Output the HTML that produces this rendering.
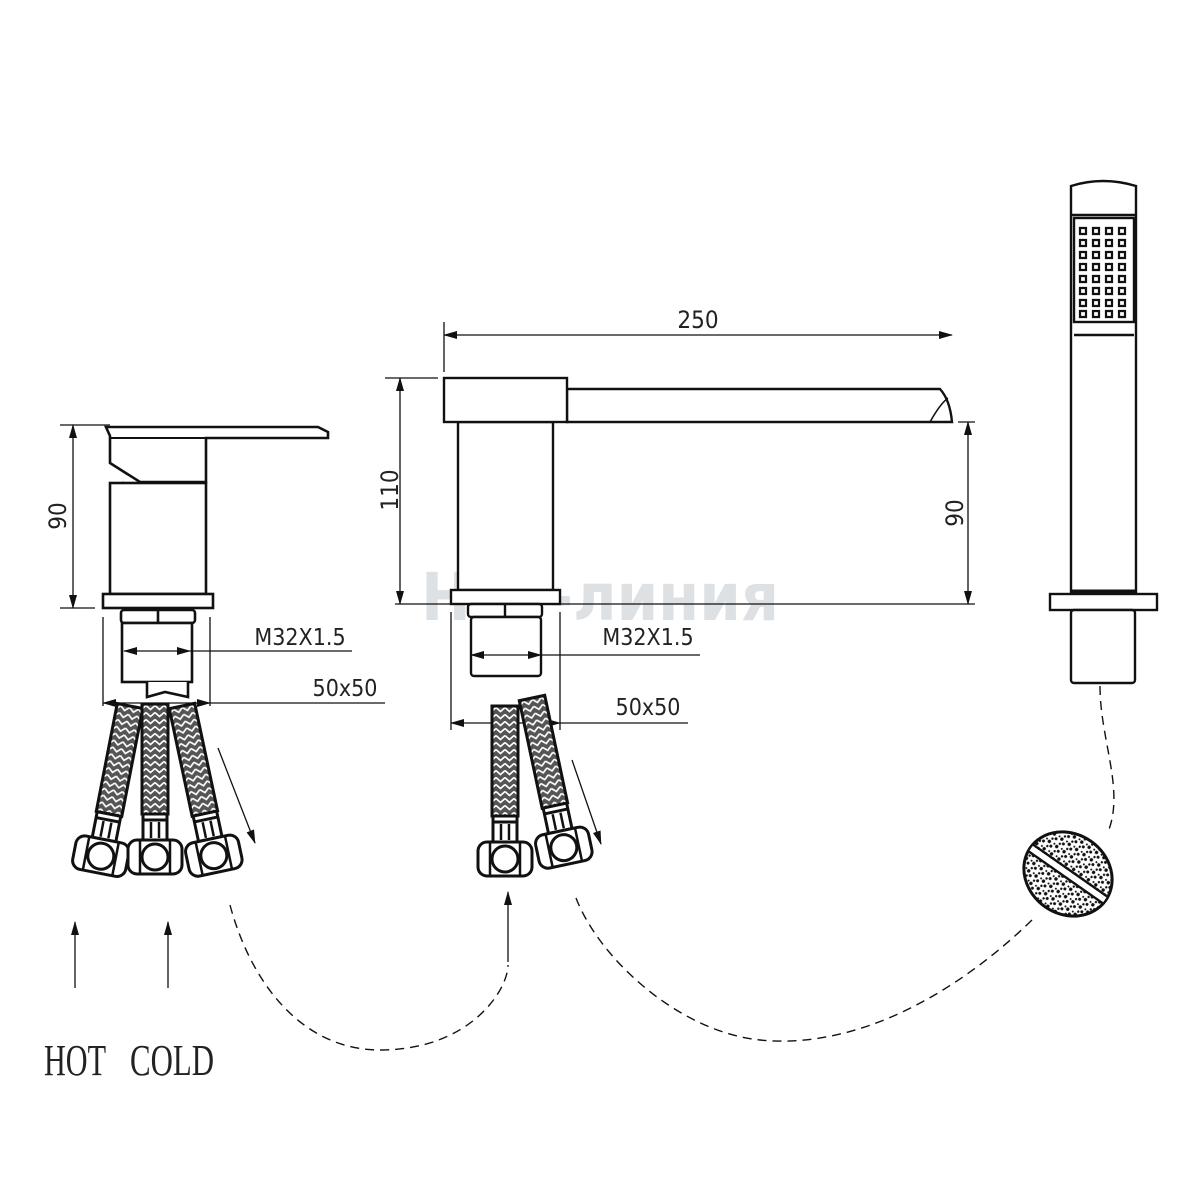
<!DOCTYPE html>
<html><head><meta charset="utf-8"><style>
html,body{margin:0;padding:0;background:#fff}
svg{display:block}
text{font-family:"DejaVu Sans Condensed","Liberation Sans",sans-serif;fill:#222}
</style></head><body>
<svg width="1200" height="1200" viewBox="0 0 1200 1200" xmlns="http://www.w3.org/2000/svg">
<defs>
<marker id="ar" markerWidth="14" markerHeight="8" refX="13" refY="4" orient="auto" markerUnits="userSpaceOnUse"><path d="M0,0 L14,4 L0,8 Z" fill="#111"/></marker>
<marker id="al" markerWidth="14" markerHeight="8" refX="1" refY="4" orient="auto" markerUnits="userSpaceOnUse"><path d="M14,0 L0,4 L14,8 Z" fill="#111"/></marker>
<pattern id="braid" width="9" height="7" patternUnits="userSpaceOnUse"><rect width="9" height="7" fill="#555"/><path d="M0,1.5 L4.5,5.5 L9,1.5" stroke="#fff" stroke-width="1.6" fill="none"/></pattern>
<pattern id="speck" width="9" height="9" patternUnits="userSpaceOnUse"><rect width="9" height="9" fill="#fff"/><circle cx="2" cy="2" r="1.7" fill="#111"/><circle cx="6" cy="5" r="1.5" fill="#111"/><circle cx="3" cy="7" r="1.2" fill="#111"/><circle cx="7.5" cy="1" r="1" fill="#111"/></pattern>
<g id="hose">
<rect x="-13" y="0" width="26" height="110" fill="url(#braid)" stroke="#111" stroke-width="3"/>
<rect x="-12" y="110" width="24" height="26" fill="#fff" stroke="#111" stroke-width="3"/>
<line x1="-12" y1="116" x2="12" y2="116" stroke="#111" stroke-width="3"/>
<line x1="-4" y1="118" x2="-4" y2="134" stroke="#111" stroke-width="2.5"/>
<line x1="4" y1="118" x2="4" y2="134" stroke="#111" stroke-width="2.5"/>
<rect x="-27" y="136" width="54" height="34" rx="9" fill="#fff" stroke="#111" stroke-width="3"/>
<line x1="-15" y1="137" x2="-15" y2="169" stroke="#111" stroke-width="2.5"/>
<line x1="15" y1="137" x2="15" y2="169" stroke="#111" stroke-width="2.5"/>
<circle cx="0" cy="153" r="13" fill="#fff" stroke="#111" stroke-width="3"/>
</g>
</defs>
<!-- watermark -->
<text x="600" y="620" font-size="66" font-weight="bold" style="fill:#dde1e4" text-anchor="middle">H₂O-линия</text>

<g fill="none" stroke="#111" stroke-width="1.3">
<line x1="60" y1="425" x2="110" y2="425"/><line x1="60" y1="608" x2="95" y2="608"/>
<line x1="73" y1="425" x2="73" y2="608" marker-start="url(#al)" marker-end="url(#ar)"/>
</g>
<text transform="translate(66,516) rotate(-90)" font-size="24" text-anchor="middle">90</text>
<g fill="#fff" stroke="#111" stroke-width="2.6">
<path d="M106,427 L318,427 L328,432 L328,438 L206,438 L206,482 L140,482 L110,463 L110,436 Z"/>
<path d="M124,482 L118,490 L118,499 L140,482"/>
<rect x="110" y="483" width="96" height="111"/>
<rect x="103" y="594" width="110" height="14"/>
<rect x="121" y="610" width="74" height="13" rx="3"/>
<line x1="158" y1="610" x2="158" y2="623"/>
<rect x="122" y="623" width="70" height="59"/>
<path d="M147,682 L147,697 L165,692 L188,697 L188,682"/>
</g>
<line x1="110" y1="438" x2="206" y2="438" stroke="#111" stroke-width="2"/>
<g fill="none" stroke="#111" stroke-width="1.3">
<line x1="103" y1="617" x2="103" y2="706"/><line x1="210" y1="617" x2="210" y2="706"/>
<line x1="124" y1="651" x2="190" y2="651" marker-start="url(#al)" marker-end="url(#ar)"/>
<line x1="190" y1="651" x2="352" y2="651"/>
<line x1="103" y1="703" x2="210" y2="703" marker-start="url(#al)" marker-end="url(#ar)"/>
<line x1="210" y1="703" x2="385" y2="703"/>
</g>
<text x="300" y="645" font-size="23" text-anchor="middle">M32X1.5</text>
<text x="345" y="696" font-size="23" text-anchor="middle">50x50</text>
<use href="#hose" transform="translate(130,706) rotate(11)"/>
<use href="#hose" transform="translate(182,706) rotate(-12)"/>
<use href="#hose" transform="translate(155,704)"/>
<line x1="218" y1="748" x2="255" y2="843" stroke="#111" stroke-width="1.3" marker-end="url(#ar)"/>
<line x1="75" y1="988" x2="75" y2="922" stroke="#111" stroke-width="1.3" marker-end="url(#ar)"/>
<line x1="168" y1="988" x2="168" y2="922" stroke="#111" stroke-width="1.3" marker-end="url(#ar)"/>
<text x="44" y="1075" font-size="44" style="font-family:'Liberation Serif',serif" textLength="62" lengthAdjust="spacingAndGlyphs">HOT</text>
<text x="130" y="1075" font-size="44" style="font-family:'Liberation Serif',serif" textLength="84" lengthAdjust="spacingAndGlyphs">COLD</text>

<!-- MIDDLE SPOUT -->
<g fill="none" stroke="#111" stroke-width="1.3">
<line x1="444" y1="322" x2="444" y2="372"/>
<line x1="444" y1="335" x2="952" y2="335" marker-start="url(#al)" marker-end="url(#ar)"/>
<line x1="385" y1="378" x2="438" y2="378"/>
<line x1="400" y1="378" x2="400" y2="604" marker-start="url(#al)" marker-end="url(#ar)"/>
<line x1="395" y1="604" x2="975" y2="604"/>
<line x1="958" y1="422" x2="975" y2="422"/>
<line x1="968" y1="422" x2="968" y2="604" marker-start="url(#al)" marker-end="url(#ar)"/>
</g>
<text x="698" y="328" font-size="24" text-anchor="middle">250</text>
<text transform="translate(398,490) rotate(-90)" font-size="24" text-anchor="middle">110</text>
<text transform="translate(963,513) rotate(-90)" font-size="24" text-anchor="middle">90</text>
<g fill="#fff" stroke="#111" stroke-width="2.4">
<path d="M567,389 L940,389 Q950,400 952,422 L567,422 Z"/>
<path d="M930,422 Q940,404 948,398" fill="none" stroke-width="1.5"/>
<rect x="458" y="422" width="95" height="168"/>
<rect x="444" y="378" width="123" height="44"/>
<rect x="451" y="590" width="109" height="14"/>
<rect x="468" y="604" width="74" height="13" rx="3"/>
<line x1="505" y1="604" x2="505" y2="617"/>
<rect x="471" y="617" width="70" height="59" rx="3"/>
</g>
<g fill="none" stroke="#111" stroke-width="1.3">
<line x1="451" y1="612" x2="451" y2="730"/><line x1="560" y1="612" x2="560" y2="730"/>
<line x1="471" y1="655" x2="541" y2="655" marker-start="url(#al)" marker-end="url(#ar)"/>
<line x1="541" y1="655" x2="700" y2="655"/>
<line x1="451" y1="723" x2="560" y2="723" marker-start="url(#al)" marker-end="url(#ar)"/>
<line x1="560" y1="723" x2="688" y2="723"/>
</g>
<text x="648" y="645" font-size="23" text-anchor="middle">M32X1.5</text>
<text x="648" y="715" font-size="23" text-anchor="middle">50x50</text>
<use href="#hose" transform="translate(532,698) rotate(-12)"/>
<use href="#hose" transform="translate(505,706)"/>
<line x1="572" y1="760" x2="601" y2="844" stroke="#111" stroke-width="1.3" marker-end="url(#ar)"/>
<line x1="508" y1="962" x2="508" y2="892" stroke="#111" stroke-width="1.3" marker-end="url(#ar)"/>

<!-- HAND SHOWER -->
<g fill="#fff" stroke="#111" stroke-width="2.4">
<path d="M1071,186 Q1103,176 1136,186 L1136,594 L1071,594 Z"/>
<line x1="1071" y1="215" x2="1136" y2="215"/>
<rect x="1074" y="218" width="60" height="104"/>
<line x1="1074" y1="335" x2="1134" y2="335"/>
<rect x="1050" y="594" width="107" height="16"/>
<rect x="1071" y="610" width="64" height="73" rx="3"/>
</g>
<line x1="1072" y1="592" x2="1135" y2="592" stroke="#111" stroke-width="5"/>
<g fill="none" stroke="#111" stroke-width="2.2">
<path d="M1080,228h6v6h-6zM1093,228h6v6h-6zM1106,228h6v6h-6zM1119,228h6v6h-6zM1080,240h6v6h-6zM1093,240h6v6h-6zM1106,240h6v6h-6zM1119,240h6v6h-6zM1080,252h6v6h-6zM1093,252h6v6h-6zM1106,252h6v6h-6zM1119,252h6v6h-6zM1080,264h6v6h-6zM1093,264h6v6h-6zM1106,264h6v6h-6zM1119,264h6v6h-6zM1080,276h6v6h-6zM1093,276h6v6h-6zM1106,276h6v6h-6zM1119,276h6v6h-6zM1080,288h6v6h-6zM1093,288h6v6h-6zM1106,288h6v6h-6zM1119,288h6v6h-6zM1080,300h6v6h-6zM1093,300h6v6h-6zM1106,300h6v6h-6zM1119,300h6v6h-6zM1080,311h6v6h-6zM1093,311h6v6h-6zM1106,311h6v6h-6zM1119,311h6v6h-6z"/>
</g>
<g transform="translate(1068,874) rotate(35)">
<ellipse cx="0" cy="0" rx="46" ry="40" fill="url(#speck)" stroke="#111" stroke-width="3"/>
<path d="M-46,-4 L46,-4 M-46,4 L46,4" stroke="#111" stroke-width="2.5"/>
<rect x="-45" y="-2.8" width="90" height="5.6" fill="#fff"/>
</g>

<!-- dashed connectors -->
<g fill="none" stroke="#111" stroke-width="1.4" stroke-dasharray="9,6">
<path d="M1100,686 C1100,740 1125,790 1108,832"/>
<path d="M1032,920 C960,990 860,1050 760,1040 C680,1032 600,960 576,898"/>
<path d="M230,905 C250,980 300,1050 380,1050 C470,1050 508,990 508,965"/>
</g>
</svg>
</body></html>
